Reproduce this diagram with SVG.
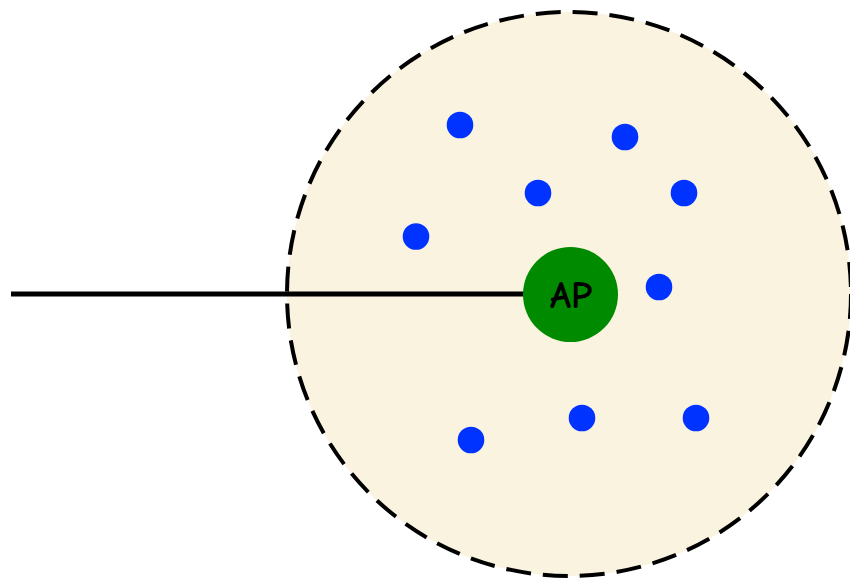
<svg xmlns="http://www.w3.org/2000/svg" width="850" height="581" viewBox="0 0 850 581">
<style>
.cell{fill:#FAF3DF;stroke:#000;stroke-width:4;stroke-dasharray:25 12}
.sta{fill:#0033FF}
.ap{fill:#008A00}
.lbl{font-family:"Comic Sans MS","Comic Neue",cursive,"DejaVu Sans",sans-serif;font-size:38px;font-weight:bold;fill:#000;text-anchor:middle}
.wire{stroke:#000;stroke-width:5;fill:none}
</style>
<g id="cell"><circle class="cell" cx="569" cy="294" r="282"/></g>
<g id="connectors"><line class="wire" x1="11" y1="294" x2="524" y2="294"/></g>
<g id="ap"><circle class="ap" cx="570.5" cy="294.5" r="47.5"/><text class="lbl" x="571" y="308">AP</text></g>
<g id="sta1"><circle class="sta" cx="460" cy="125" r="13.3"/></g>
<g id="sta2"><circle class="sta" cx="625" cy="137" r="13.3"/></g>
<g id="sta3"><circle class="sta" cx="538" cy="193" r="13.3"/></g>
<g id="sta4"><circle class="sta" cx="684" cy="193" r="13.3"/></g>
<g id="sta5"><circle class="sta" cx="416" cy="236.5" r="13.3"/></g>
<g id="sta6"><circle class="sta" cx="659" cy="287" r="13.3"/></g>
<g id="sta7"><circle class="sta" cx="471" cy="440" r="13.3"/></g>
<g id="sta8"><circle class="sta" cx="582" cy="418" r="13.3"/></g>
<g id="sta9"><circle class="sta" cx="696" cy="418" r="13.3"/></g>
</svg>
